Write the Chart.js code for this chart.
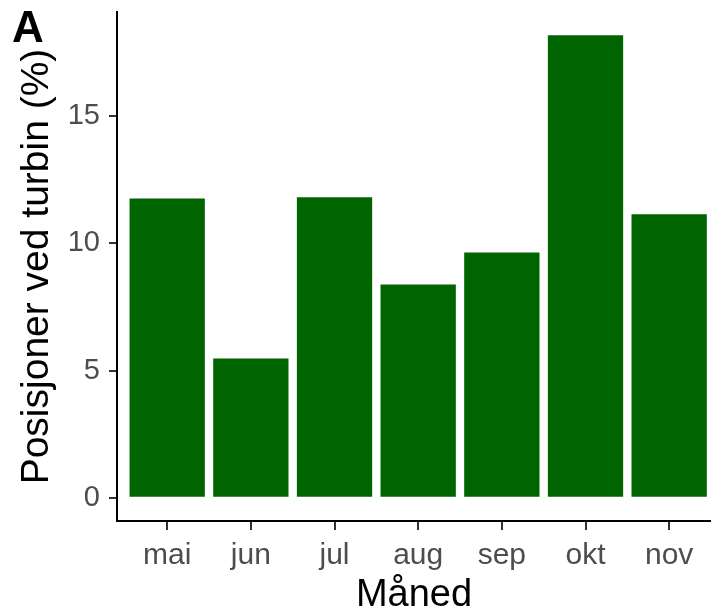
<!DOCTYPE html>
<html>
<head>
<meta charset="utf-8">
<script src="https://cdn.jsdelivr.net/npm/chart.js@4"></script>
<style>
  html, body { margin: 0; padding: 0; background: #fff; overflow: hidden; }
  #wrap { width: 711px; height: 615px; position: relative; }
</style>
</head>
<body>
<div id="wrap"><canvas id="chart" width="711" height="615"></canvas></div>
<script>
// data
const months = ["mai", "jun", "jul", "aug", "sep", "okt", "nov"];
const shares = [11.76, 5.48, 11.81, 8.38, 9.64, 18.18, 11.14];
const yTicks = [0, 5, 10, 15];

const yPad = Math.max(...shares) * 0.05;  // ggplot-style 5% expansion

// draws the panel tag "A" in the upper left corner
const panelTag = {
  id: "panelTag",
  afterDraw(chart) {
    const c = chart.ctx;
    c.save();
    c.font = "bold 44px 'Liberation Sans', Arial, sans-serif";
    c.fillStyle = "#000";
    c.textBaseline = "alphabetic";
    c.fillText("A", 12, 42);
    c.restore();
  }
};

new Chart(document.getElementById("chart").getContext("2d"), {
  type: "bar",
  data: {
    datasets: [{
      data: shares.map((v, i) => ({ x: i, y: v })),
      backgroundColor: "#006400",
      borderWidth: 0,
      categoryPercentage: 1,
      barPercentage: 0.9
    }]
  },
  options: {
    responsive: false,
    animation: false,
    layout: { padding: { top: 12, right: 0, left: 0, bottom: 0 } },
    plugins: { legend: { display: false }, tooltip: { enabled: false } },
    scales: {
      x: {
        type: "linear",
        offset: false,
        min: -0.6,
        max: 6.5,
        afterBuildTicks: s => { s.ticks = months.map((m, i) => ({ value: i })); },
        afterFit: s => { s.height = 94; s.paddingLeft = 0; s.paddingRight = 0; },
        ticks: {
          callback: v => months[v],
          color: "#4d4d4d",
          font: { family: "'Liberation Sans', Arial, sans-serif", size: 30 },
          padding: 8,
          maxRotation: 0,
          autoSkip: false
        },
        grid: { display: true, offset: false, drawOnChartArea: false, drawTicks: true, tickLength: 9, color: "#333", lineWidth: 2 },
        border: { display: true, color: "#000", width: 2 },
        title: {
          display: true,
          text: "Måned",
          color: "#000",
          font: { family: "'Liberation Sans', Arial, sans-serif", size: 38, lineHeight: 1 },
          padding: { top: 0, bottom: 0 }
        }
      },
      y: {
        min: -yPad,
        max: Math.max(...shares) + yPad,
        afterBuildTicks: s => { s.ticks = yTicks.map(v => ({ value: v })); },
        afterFit: s => { s.width = 117; s.paddingTop = 0; s.paddingBottom = 0; },
        ticks: {
          color: "#4d4d4d",
          font: { family: "'Liberation Sans', Arial, sans-serif", size: 29 },
          padding: 9
        },
        grid: { display: true, drawOnChartArea: false, drawTicks: true, tickLength: 8, color: "#333", lineWidth: 2 },
        border: { display: true, color: "#000", width: 2 },
        title: {
          display: true,
          text: "Posisjoner ved turbin (%)",
          color: "#000",
          font: { family: "'Liberation Sans', Arial, sans-serif", size: 39, lineHeight: 1 },
          padding: { top: 18, bottom: 0 }
        }
      }
    }
  },
  plugins: [panelTag]
});
</script>
</body>
</html>
